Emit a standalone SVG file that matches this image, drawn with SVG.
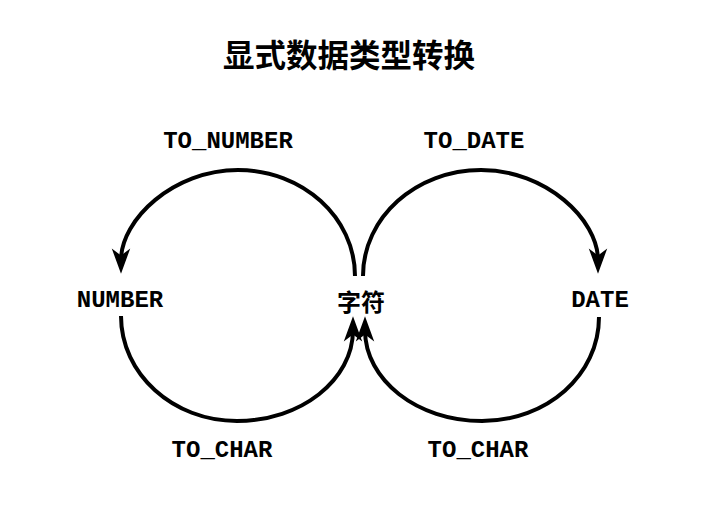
<svg xmlns="http://www.w3.org/2000/svg" width="725" height="532" viewBox="0 0 725 532">
<style>
.lbl{font-family:"Liberation Mono","Courier New",monospace;font-weight:bold;font-size:24px;fill:#000;text-anchor:middle}
.cjk{font-family:"Noto Sans CJK SC","Noto Sans CJK TC",sans-serif;font-weight:bold;fill:#000;text-anchor:middle}
.arc{fill:none;stroke:#000;stroke-width:4}
</style>
<defs>
<marker id="ah" markerUnits="userSpaceOnUse" markerWidth="30" markerHeight="30" viewBox="-12 -10 26 20" refX="0" refY="0" orient="auto">
<path d="M12,0 L-10,-8 L-4,0 L-10,8 Z" fill="#000"/>
</marker>
</defs>
<rect width="725" height="532" fill="#fff"/>
<text class="cjk" x="349" y="67" font-size="31.5">显式数据类型转换</text>
<g id="connectors">
<path class="arc" d="M355,276 C355,217.5 302.6,170 238,170 C173.4,170 121,219.7 121,260" marker-end="url(#ah)"/>
<path class="arc" d="M363,276 C363,217.5 416,170 481,170 C546,170 598,219.7 598,260" marker-end="url(#ah)"/>
<path class="arc" d="M121,316 C121,374 173,421 237,421 C301,421 353,380 353,330" marker-end="url(#ah)"/>
<path class="arc" d="M599,317 C599,375 547,421 482,421 C417,421 365,380 365,330" marker-end="url(#ah)"/>
</g>
<g id="node-char"><text class="cjk" x="361" y="311" font-size="24">字符</text></g>
<g id="node-number"><text class="lbl" x="120" y="307">NUMBER</text></g>
<g id="node-date"><text class="lbl" x="600" y="307">DATE</text></g>
<g id="label-to-number"><text class="lbl" x="228" y="148">TO_NUMBER</text></g>
<g id="label-to-date"><text class="lbl" x="474" y="148">TO_DATE</text></g>
<g id="label-to-char-1"><text class="lbl" x="222" y="457">TO_CHAR</text></g>
<g id="label-to-char-2"><text class="lbl" x="478" y="457">TO_CHAR</text></g>
</svg>
